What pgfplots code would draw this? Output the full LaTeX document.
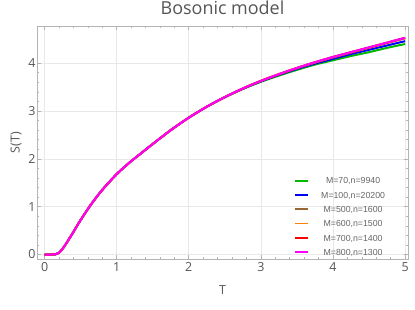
\documentclass[border=0pt]{standalone}
\usepackage{fontspec}
\setmainfont{Open Sans}
\newfontfamily\legfont{Liberation Sans}
\usepackage{pgfplots}
\usepackage{pgfplotstable}
\pgfplotsset{compat=1.18}
\definecolor{framegray}{HTML}{B4B4B4}
\definecolor{labgray}{HTML}{555555}
\definecolor{leggray}{HTML}{666666}
\definecolor{gridgray}{HTML}{E8E8E8}
\definecolor{mgreen}{rgb}{0,0.72,0}
\definecolor{mblue}{rgb}{0,0,1}
\definecolor{mbrown}{rgb}{0.6,0.4,0.2}
\definecolor{morange}{rgb}{1,0.5,0}
\definecolor{mred}{rgb}{1,0,0}
\definecolor{mmagenta}{rgb}{1,0,1}
\newcommand\legtext[1]{\hspace*{5bp}\makebox[76bp][c]{\textcolor{leggray}{#1}}}

\pgfplotstableread{
T    g     b     br    o     r     m
0    0     0     0     0     0     0
0.1  0     0     0     0     0     0
0.15 0.004 0.004 0.004 0.004 0.004 0.004
0.2  0.035 0.035 0.035 0.035 0.035 0.035
0.25 0.12  0.12  0.12  0.12  0.12  0.12
0.3  0.23  0.23  0.23  0.23  0.23  0.23
0.35 0.35  0.35  0.35  0.35  0.35  0.35
0.4  0.47  0.47  0.47  0.47  0.47  0.47
0.45 0.60  0.60  0.60  0.60  0.60  0.60
0.5  0.72  0.72  0.72  0.72  0.72  0.72
0.6  0.95  0.95  0.95  0.95  0.95  0.95
0.7  1.16  1.16  1.16  1.16  1.16  1.16
0.8  1.35  1.35  1.35  1.35  1.35  1.35
0.9  1.52  1.52  1.52  1.52  1.52  1.52
1.0  1.68  1.68  1.68  1.68  1.68  1.68
1.1  1.82  1.82  1.82  1.82  1.82  1.82
1.2  1.95  1.95  1.95  1.95  1.95  1.95
1.3  2.07  2.07  2.07  2.07  2.07  2.07
1.4  2.19  2.19  2.19  2.19  2.19  2.19
1.5  2.31  2.31  2.31  2.31  2.31  2.31
1.75 2.60  2.60  2.60  2.60  2.60  2.60
2.0  2.86  2.86  2.86  2.86  2.86  2.86
2.25 3.09  3.09  3.09  3.09  3.09  3.09
2.5  3.285 3.29  3.29  3.29  3.29  3.29
2.75 3.46  3.465 3.47  3.47  3.47  3.47
3.0  3.61  3.62  3.63  3.63  3.63  3.63
3.25 3.74  3.755 3.765 3.77  3.77  3.77
3.5  3.86  3.88  3.895 3.90  3.90  3.90
3.75 3.97  3.99  4.01  4.015 4.02  4.02
4.0  4.06  4.09  4.12  4.125 4.13  4.13
4.25 4.15  4.19  4.22  4.225 4.23  4.23
4.5  4.23  4.28  4.32  4.325 4.33  4.33
4.75 4.32  4.37  4.42  4.425 4.43  4.43
5.0  4.40  4.46  4.52  4.525 4.53  4.53
}\datatab

\begin{document}
\begin{tikzpicture}
\begin{axis}[
  name=ax,
  scale only axis, width=371bp, height=233bp,
  xmin=-0.105, xmax=5.04, ymin=-0.094, ymax=4.777,
  axis line style={framegray, line width=0.8bp},
  xtick={0,1,2,3,4,5}, ytick={0,1,2,3,4},
  minor x tick num=4, minor y tick num=4,
  tick align=inside, major tick length=4bp, minor tick length=2.2bp,
  every tick/.style={framegray, line width=0.6bp},
  grid=major, major grid style={gridgray, line width=0.6bp},
  /pgf/number format/assume math mode=true,
  tick label style={font=\fontsize{12.5}{14}\selectfont, text=labgray},
  yticklabel style={xshift=2bp},
  xlabel={T}, ylabel={S(T)},
  label style={font=\fontsize{12.5}{14}\selectfont, text=labgray},
  xlabel style={at={(axis description cs:0.5,-0.133)}, anchor=center},
  ylabel style={at={(axis description cs:-0.0566,0.5)}, anchor=center},
  title={Bosonic model},
  title style={font=\fontsize{18}{20}\selectfont, text=labgray, at={(axis description cs:0.5,1.054)}, anchor=center},
  legend cell align=left,
  legend image code/.code={\draw[#1, line width=1.7bp] (0bp,0bp) -- (13bp,0bp);},
  legend style={at={(axis cs:3.465,0.795)}, anchor=west, draw=none, fill=none, inner sep=0pt,
    font=\legfont\fontsize{8.8}{9}\selectfont,
    /tikz/every odd column/.append style={column sep=0pt},
    /tikz/every even column/.append style={column sep=0pt},
    row sep=6.4bp, nodes={inner sep=0.8bp, text height=6.3bp, text depth=0bp}},
]
\addplot[color=mgreen, line width=2bp, smooth] table[x=T, y=g]{\datatab};
\addlegendentry{\legtext{M=70,n=9940}}
\addplot[color=mblue, line width=2bp, smooth] table[x=T, y=b]{\datatab};
\addlegendentry{\legtext{M=100,n=20200}}
\addplot[color=mbrown, line width=2bp, smooth] table[x=T, y=br]{\datatab};
\addlegendentry{\legtext{M=500,n=1600}}
\addplot[color=morange, line width=2bp, smooth] table[x=T, y=o]{\datatab};
\addlegendentry{\legtext{M=600,n=1500}}
\addplot[color=mred, line width=2bp, smooth] table[x=T, y=r]{\datatab};
\addlegendentry{\legtext{M=700,n=1400}}
\addplot[color=mmagenta, line width=2bp, smooth] table[x=T, y=m]{\datatab};
\addlegendentry{\legtext{M=800,n=1300}}
\end{axis}
\pgfresetboundingbox
\path[use as bounding box] ([shift={(-37bp,-51bp)}]ax.south west) rectangle ([shift={(7bp,26bp)}]ax.north east);
\end{tikzpicture}
\end{document}
